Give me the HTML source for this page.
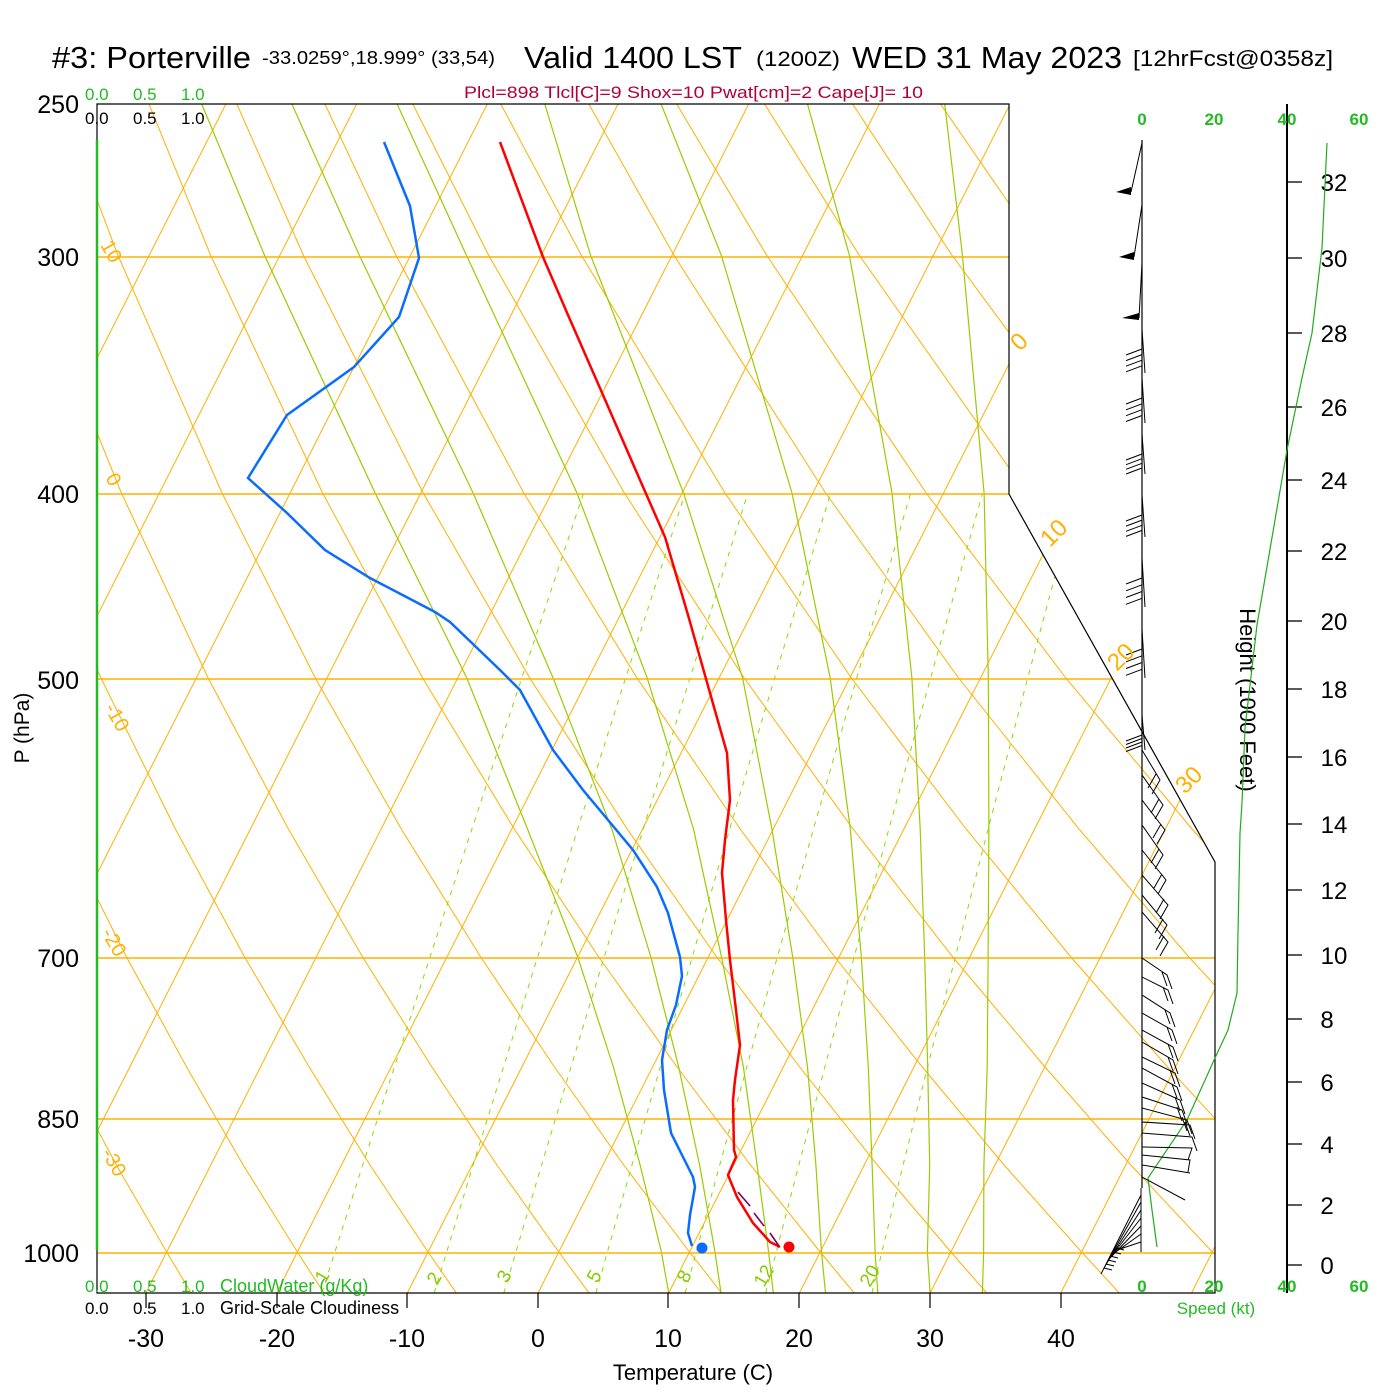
<!DOCTYPE html>
<html><head><meta charset="utf-8"><style>
html,body{margin:0;padding:0;background:#fff;}
svg{display:block;font-family:"Liberation Sans",sans-serif;}
</style></head><body>
<svg width="1400" height="1400" viewBox="0 0 1400 1400" xmlns="http://www.w3.org/2000/svg">
<defs><clipPath id="cp"><polygon points="97,104 1009,104 1009,494 1215,862 1215,1293 97,1293"/></clipPath></defs>
<rect width="1400" height="1400" fill="#fff"/>
<g clip-path="url(#cp)" fill="none">
<path stroke="#ffb000" stroke-width="1" d="M-376.9 1293L225.9 104M-246.2 1293L356.6 104M-115.5 1293L487.3 104M15.2 1293L618 104M145.9 1293L748.7 104M276.6 1293L879.4 104M407.3 1293L1010.1 104M538 1293L1140.8 104M668.7 1293L1271.5 104M799.4 1293L1402.2 104M930.1 1293L1532.9 104M1060.8 1293L1663.6 104M1191.5 1293L1794.3 104"/>
<path stroke="#ffb000" stroke-width="1" d="
M191.3 1293L166.7 1252L116.4 1165L64 1067L8.5 957L-50.5 829
M323.9 1293L297.4 1252L243.2 1165L186.6 1067L126.5 957L62.5 829L-6.3 678
M456.4 1293L428.1 1252L370 1165L309.2 1067L244.6 957L175.4 829L100.9 678L20.8 493
M589 1293L558.8 1252L496.9 1165L431.9 1067L362.6 957L288.4 829L208.1 678L121.4 493L25.2 255L-27 104
M721.6 1293L689.5 1252L623.7 1165L554.5 1067L480.7 957L401.3 829L315.3 678L222 493L117.8 255L61 104
M854.2 1293L820.2 1252L750.5 1165L677.1 1067L598.7 957L514.3 829L422.6 678L322.6 493L210.5 255L149 104
M986.7 1293L950.9 1252L877.3 1165L799.7 1067L716.7 957L627.2 829L529.8 678L423.2 493L303.2 255L236.9 104
M1119.3 1293L1081.6 1252L1004.1 1165L922.3 1067L834.8 957L740.2 829L637 678L523.8 493L395.8 255L324.9 104
M1251.9 1293L1212.3 1252L1130.9 1165L1045 1067L952.8 957L853.1 829L744.2 678L624.4 493L488.5 255L412.8 104
M1384.4 1293L1343 1252L1257.7 1165L1167.6 1067L1070.9 957L966.1 829L851.4 678L725 493L581.2 255L500.8 104
M1517 1293L1473.7 1252L1384.6 1165L1290.2 1067L1188.9 957L1079 829L958.6 678L825.6 493L673.8 255L588.8 104
M1649.6 1293L1604.4 1252L1511.4 1165L1412.8 1067L1306.9 957L1192 829L1065.8 678L926.2 493L766.5 255L676.7 104
M1425 957L1304.9 829L1173 678L1026.8 493L859.1 255L764.6 104
M1417.9 829L1280.2 678L1127.4 493L951.8 255L852.6 104
M1387.4 678L1228 493L1044.4 255L940.5 104"/>
<path stroke="#88dd00" stroke-width="1" stroke-dasharray="5,6" d="
M321.8 1293L334.9 1252L362.7 1165L394.4 1067L430 957L471.9 829L521.8 678L583.6 493
M434.2 1293L446.7 1252L473.1 1165L503.5 1067L537.6 957L577.7 829L625.6 678L685.2 493
M503.8 1293L515.9 1252L541.6 1165L571 1067L604.2 957L643.2 829L690 678L747.9 493
M595.9 1293L607.4 1252L632 1165L660.3 1067L692.2 957L729.7 829L774.6 678L830.7 493
M685.2 1293L696.2 1252L719.7 1165L746.8 1067L777.3 957L813.5 829L856.7 678L910.7 493
M765.7 1293L776.3 1252L798.8 1165L824.9 1067L854.1 957L888.9 829L930.6 678L982.6 493
M871.9 1293L881.9 1252L903.1 1165L927.6 1067L955.3 957L988.1 829L1027.7 678L1077.3 493"/>
<path stroke="#99cc00" stroke-width="1.2" d="
M668.7 1293L661.4 1252L640.1 1165L613.4 1067L577.7 957L527.5 829L466.8 678L375.1 493L264.4 255L201.7 104
M721 1293L715 1252L699.6 1165L678.7 1067L650.9 957L611.8 829L553.1 678L473.1 493L359.2 255L291.9 104
M773.3 1293L768.6 1252L757.1 1165L743.4 1067L721.5 957L693.5 829L647.2 678L577 493L466.3 255L397.1 104
M825.5 1293L821.5 1252L815.9 1165L807.5 1067L792.7 957L771.9 829L742.6 678L683.5 493L590.5 255L544.8 104
M877.8 1293L875.1 1252L872.1 1165L868.3 1067L861.3 957L850.3 829L830.2 678L792 493L721.2 255L661.1 104
M930.1 1293L927.4 1252L929.7 1165L927.7 1067L924.7 957L920.2 829L911.9 678L892 493L849.3 255L807.5 104
M982.4 1293L983.6 1252L983.9 1165L987.2 1067L988.1 957L988.9 829L988.3 678L984.1 493L962.4 255L944.7 104"/>
</g>
<g stroke="#ffb000" stroke-width="1.5">
<line x1="97" y1="257" x2="1009" y2="257"/>
<line x1="97" y1="494" x2="1009" y2="494"/>
<line x1="97" y1="679" x2="1112" y2="679"/>
<line x1="97" y1="958" x2="1215" y2="958"/>
<line x1="97" y1="1119" x2="1215" y2="1119"/>
<line x1="97" y1="1253" x2="1215" y2="1253"/>
</g>
<g stroke="#000" stroke-width="1.2" fill="none">
<polyline points="97,140 97,104 1009,104 1009,494 1215,862 1215,1293 97,1293 97,1250"/>
<line x1="146" y1="1293" x2="146" y2="1308"/><line x1="277" y1="1293" x2="277" y2="1308"/>
<line x1="407" y1="1293" x2="407" y2="1308"/><line x1="538" y1="1293" x2="538" y2="1308"/>
<line x1="668" y1="1293" x2="668" y2="1308"/><line x1="799" y1="1293" x2="799" y2="1308"/>
<line x1="930" y1="1293" x2="930" y2="1308"/><line x1="1061" y1="1293" x2="1061" y2="1308"/>
</g>
<line x1="97" y1="140" x2="97" y2="1250" stroke="#22bb22" stroke-width="2.5"/>
<g stroke="#000" stroke-width="1.3">
<line x1="1287" y1="104" x2="1287" y2="1293" stroke-width="2"/>
<line x1="1287" y1="182" x2="1302" y2="182"/><line x1="1287" y1="258" x2="1302" y2="258"/>
<line x1="1287" y1="333" x2="1302" y2="333"/><line x1="1287" y1="407" x2="1302" y2="407"/>
<line x1="1287" y1="480" x2="1302" y2="480"/><line x1="1287" y1="551" x2="1302" y2="551"/>
<line x1="1287" y1="621" x2="1302" y2="621"/><line x1="1287" y1="689" x2="1302" y2="689"/>
<line x1="1287" y1="757" x2="1302" y2="757"/><line x1="1287" y1="824" x2="1302" y2="824"/>
<line x1="1287" y1="890" x2="1302" y2="890"/><line x1="1287" y1="955" x2="1302" y2="955"/>
<line x1="1287" y1="1019" x2="1302" y2="1019"/><line x1="1287" y1="1082" x2="1302" y2="1082"/>
<line x1="1287" y1="1144" x2="1302" y2="1144"/><line x1="1287" y1="1205" x2="1302" y2="1205"/>
<line x1="1287" y1="1265" x2="1302" y2="1265"/>
</g>
<g font-size="24" fill="#000" text-anchor="middle">
<text x="1334" y="191">32</text><text x="1334" y="267">30</text><text x="1334" y="342">28</text>
<text x="1334" y="416">26</text><text x="1334" y="489">24</text><text x="1334" y="560">22</text>
<text x="1334" y="630">20</text><text x="1334" y="698">18</text><text x="1334" y="766">16</text>
<text x="1334" y="833">14</text><text x="1334" y="899">12</text><text x="1334" y="964">10</text>
<text x="1327" y="1028">8</text><text x="1327" y="1091">6</text><text x="1327" y="1153">4</text>
<text x="1327" y="1214">2</text><text x="1327" y="1274">0</text>
</g>
<text x="0" y="0" font-size="22" transform="translate(1240,700) rotate(90)" text-anchor="middle">Height (1000 Feet)</text>
<polyline fill="none" stroke="#22aa22" stroke-width="1.2" points="1327,143 1322,248 1312,333 1302,378 1287,450 1257,625 1245,728 1242,803 1240,833 1238,933 1237,993 1228,1030 1215,1058 1187,1120 1148,1178 1152,1210 1157,1247"/>
<line x1="1142" y1="140" x2="1142" y2="1188" stroke="#000" stroke-width="1.2"/>
<g stroke="#000" stroke-width="1" fill="none">
<path d="M1142 143L1131 192M1142 205L1134 257M1142 263L1139 318"/>
<path d="M1142 329L1145 373M1142 349L1126 355M1142 354.6L1126 360.6M1142 360.2L1126 366.2M1142 365.8L1126 371.8
M1142 378L1145 423M1142 398L1126 404M1142 403.8L1126 409.8M1142 409.7L1126 415.7M1142 415.5L1126 421.5
M1142 434L1145 474M1142 454L1126 460M1142 458.7L1126 464.7M1142 463.3L1126 469.3M1142 468L1126 474
M1142 495L1145 537M1142 515L1126 521M1142 520.1L1126 526.1M1142 525.3L1126 531.3M1142 530.4L1126 536.4
M1142 558L1145 607M1142 578L1126 584M1142 584.8L1126 590.8M1142 591.5L1126 597.5M1142 598.3L1126 604.3
M1142 629L1145 678M1142 649L1126 655M1142 655.8L1126 661.8M1142 662.5L1126 668.5M1142 669.3L1126 675.3
M1142 715L1145 750M1142 735L1126 741M1142 738.5L1126 744.5M1142 742L1126 748M1142 745.5L1126 751.5"/>
<path d="M1142 750L1160 780L1152 794M1156 774L1148 788
M1142 775L1163 805L1155 819M1159 799L1151 813
M1142 800L1165 830L1157 844M1161 824L1153 838
M1142 825L1163 855L1155 869M1159 849L1151 863
M1142 850L1166 880L1158 894M1162 874L1154 888
M1142 875L1168 905L1160 919M1164 899L1156 913
M1142 895L1167 925L1159 939M1163 919L1155 933
M1142 912L1168 942L1160 956M1164 936L1156 950"/>
<path d="M1142 958L1167 975L1172 989M1162 972L1167 986
M1142 977L1168 990L1173 1004M1163 987L1168 1001
M1142 995L1170 1013L1175 1027M1165 1010L1170 1024
M1142 1013L1172 1030L1177 1044M1167 1027L1172 1041
M1142 1030L1173 1047L1178 1061M1168 1044L1173 1058
M1142 1042L1173 1060L1178 1074M1168 1057L1173 1071
M1142 1057L1175 1073L1180 1087M1170 1070L1175 1084
M1142 1068L1177 1087L1182 1101M1172 1084L1177 1098
M1142 1083L1180 1100L1185 1114M1175 1097L1180 1111
M1142 1097L1182 1110L1187 1124M1177 1107L1182 1121
M1142 1108L1187 1120L1192 1134M1182 1117L1187 1131
M1142 1122L1190 1125L1195 1139M1185 1122L1190 1136
M1142 1133L1192 1137L1197 1151
M1142 1147L1192 1148L1188 1160
M1142 1155L1190 1160L1188 1172
M1142 1165L1190 1173
M1142 1177L1185 1200"/>
<path d="M1141 1188L1141 1252
M1141 1195L1101 1274M1104 1268L1112 1270
M1141 1202L1103 1270M1106 1264L1114 1266
M1141 1210L1105 1266M1108 1260L1116 1262
M1141 1218L1107 1262M1110 1256L1118 1258
M1141 1226L1110 1258M1113 1252L1121 1254
M1141 1234L1113 1254M1116 1248L1124 1250
M1141 1242L1117 1250"/>
</g>
<g fill="#000"><polygon points="1116,192 1131,187 1131,195"/><polygon points="1119,257 1134,252 1134,260"/><polygon points="1122,318 1139,313 1139,320"/></g>
<polyline fill="none" stroke="#ff0000" stroke-width="2.5" points="500,142 543,257 568,315 603,395 640,480 665,537 688,615 710,693 727,753 730,800 725,840 722,873 726,920 730,960 736,1010 740,1045 735,1080 733,1100 734,1150 736,1157 728,1175 737,1197 753,1223 770,1242 780,1247"/>
<polyline fill="none" stroke="#0a6cff" stroke-width="2.5" points="384,142 410,206 419,258 399,317 354,367 287,415 248,478 287,513 325,550 370,578 435,612 450,622 500,670 520,690 553,750 583,790 633,850 657,887 668,913 680,957 682,976 676,1005 667,1030 662,1060 664,1090 671,1133 683,1157 693,1177 695,1187 690,1215 688,1233 692,1246"/>
<circle cx="789" cy="1247" r="5.5" fill="#ff0000"/>
<circle cx="702" cy="1248" r="5.5" fill="#0a6cff"/>
<g stroke="#800060" stroke-width="1.6"><line x1="738" y1="1192" x2="750" y2="1206"/><line x1="754" y1="1213" x2="764" y2="1226"/><line x1="770" y1="1233" x2="779" y2="1246"/></g>
<g font-size="31" fill="#000">
<text x="52" y="68" textLength="199" lengthAdjust="spacingAndGlyphs">#3: Porterville</text>
<text x="524" y="68" textLength="218" lengthAdjust="spacingAndGlyphs">Valid 1400 LST</text>
<text x="852" y="68" textLength="270" lengthAdjust="spacingAndGlyphs">WED 31 May 2023</text>
</g>
<text x="262" y="64" font-size="18" textLength="233" lengthAdjust="spacingAndGlyphs">-33.0259°,18.999° (33,54)</text>
<text x="756" y="66" font-size="21" textLength="84" lengthAdjust="spacingAndGlyphs">(1200Z)</text>
<text x="1133" y="66" font-size="22" textLength="200" lengthAdjust="spacingAndGlyphs">[12hrFcst@0358z]</text>
<text x="464" y="98" font-size="17" fill="#b0003c" textLength="459" lengthAdjust="spacingAndGlyphs">Plcl=898 Tlcl[C]=9 Shox=10 Pwat[cm]=2 Cape[J]= 10</text>
<g font-size="17" fill="#22bb22"><text x="85" y="100">0.0</text><text x="133" y="100">0.5</text><text x="181" y="100">1.0</text>
<text x="85" y="1292">0.0</text><text x="133" y="1292">0.5</text><text x="181" y="1292">1.0</text><text x="220" y="1292" font-size="18">CloudWater (g/Kg)</text></g>
<g font-size="17" fill="#000"><text x="85" y="124">0.0</text><text x="133" y="124">0.5</text><text x="181" y="124">1.0</text>
<text x="85" y="1314">0.0</text><text x="133" y="1314">0.5</text><text x="181" y="1314">1.0</text><text x="220" y="1314" font-size="18">Grid-Scale Cloudiness</text></g>
<g font-size="17" font-weight="bold" fill="#22bb22" text-anchor="middle"><text x="1142" y="125">0</text><text x="1214" y="125">20</text><text x="1287" y="125">40</text><text x="1359" y="125">60</text>
<text x="1142" y="1292">0</text><text x="1214" y="1292">20</text><text x="1287" y="1292">40</text><text x="1359" y="1292">60</text>
<text x="1216" y="1314" font-weight="normal">Speed (kt)</text></g>
<g font-size="25" fill="#000" text-anchor="end"><text x="79" y="113">250</text><text x="79" y="266">300</text><text x="79" y="503">400</text><text x="79" y="689">500</text><text x="79" y="967">700</text><text x="79" y="1128">850</text><text x="79" y="1262">1000</text></g>
<text font-size="21" transform="translate(29,728) rotate(-90)" text-anchor="middle">P (hPa)</text>
<g font-size="25" fill="#000" text-anchor="middle"><text x="146" y="1347">-30</text><text x="277" y="1347">-20</text><text x="407" y="1347">-10</text><text x="538" y="1347">0</text><text x="668" y="1347">10</text><text x="799" y="1347">20</text><text x="930" y="1347">30</text><text x="1061" y="1347">40</text></g>
<text x="693" y="1380" font-size="22" text-anchor="middle">Temperature (C)</text>
<g font-size="20" fill="#ffb000">
<text transform="translate(100,245) rotate(60)">10</text>
<text transform="translate(105,478) rotate(60)">0</text>
<text transform="translate(104,708) rotate(60)">-10</text>
<text transform="translate(101,933) rotate(60)">-20</text>
<text transform="translate(101,1153) rotate(60)">-30</text>
<text font-size="24" transform="translate(1020,352) rotate(-45)">0</text>
<text font-size="24" transform="translate(1050,548) rotate(-45)">10</text>
<text font-size="24" transform="translate(1117,672) rotate(-45)">20</text>
<text font-size="24" transform="translate(1185,795) rotate(-45)">30</text>
</g>
<g font-size="19" fill="#88cc00">
<text transform="translate(325,1284) rotate(-60)">1</text>
<text transform="translate(437,1286) rotate(-60)">2</text>
<text transform="translate(507,1284) rotate(-60)">3</text>
<text transform="translate(597,1284) rotate(-60)">5</text>
<text transform="translate(687,1284) rotate(-60)">8</text>
<text transform="translate(764,1288) rotate(-60)">12</text>
<text transform="translate(870,1288) rotate(-60)">20</text>
</g>
</svg>
</body></html>
